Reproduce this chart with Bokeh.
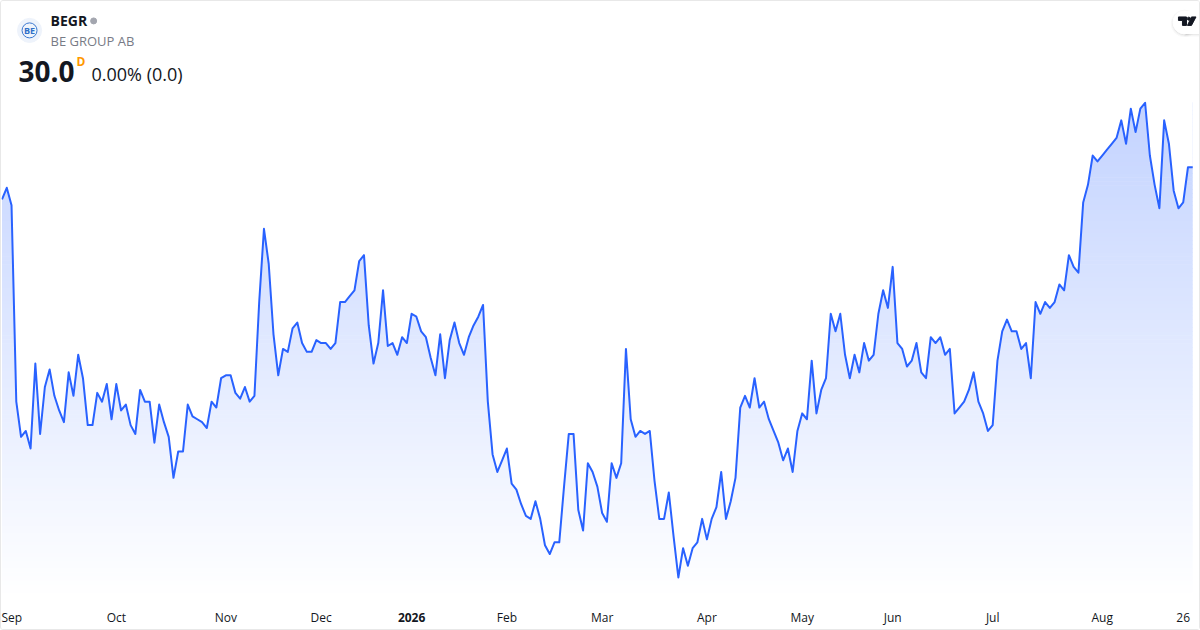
from bokeh.embed import file_html
from bokeh.resources import INLINE
from bokeh.plotting import figure
from bokeh.models import Label, FixedTicker, Range1d, LinearAxis
import numpy as np

ticker_name = "BEGR"
company = "BE GROUP AB"
last_price = "30.0"
change_text = "0.00% (0.0)"

closes = [
    29.45,29.65,29.35,26.0,25.4,25.5,25.2,26.65,25.45,26.25,26.55,26.1,25.85,25.65,26.5,26.1,26.8,26.4,25.6,25.6,
    26.15,26.0,26.3,25.7,26.3,25.85,25.95,25.6,25.45,26.2,26.0,26.0,25.3,25.95,25.65,25.4,24.7,25.15,25.15,25.95,
    25.75,25.7,25.65,25.55,26.0,25.9,26.4,26.45,26.45,26.15,26.05,26.25,26.0,26.1,27.7,28.95,28.35,27.15,26.45,26.9,
    26.85,27.25,27.35,27.0,26.85,26.85,27.05,27.0,27.0,26.9,27.0,27.7,27.7,27.8,27.9,28.4,28.5,27.3,26.65,27.0,
    27.9,26.95,27.0,26.8,27.1,27.0,27.5,27.45,27.2,27.1,26.75,26.45,27.15,26.4,27.05,27.35,27.0,26.8,27.1,27.3,
    27.45,27.65,26.0,25.1,24.8,25.0,25.2,24.6,24.5,24.25,24.05,24.0,24.3,24.0,23.55,23.4,23.6,23.6,24.55,25.45,
    25.45,24.15,23.8,24.95,24.8,24.55,24.1,23.95,24.95,24.7,24.95,26.9,25.7,25.4,25.5,25.45,25.5,24.65,24.0,24.0,
    24.45,23.7,23.0,23.5,23.2,23.5,23.6,24.0,23.65,24.0,24.2,24.8,24.0,24.3,24.7,25.9,26.1,25.9,26.4,25.9,
    26.0,25.7,25.5,25.3,25.0,25.2,24.8,25.5,25.8,25.7,26.7,25.8,26.2,26.4,27.5,27.2,27.5,26.8,26.4,26.8,
    26.5,27.0,26.7,26.8,27.5,27.9,27.6,28.3,27.0,26.9,26.6,26.7,27.0,26.5,26.4,27.1,27.0,27.1,26.8,26.9,
    25.8,25.9,26.0,26.2,26.5,26.0,25.8,25.5,25.6,26.7,27.2,27.4,27.2,27.2,26.9,27.0,26.4,27.7,27.5,27.7,
    27.6,27.7,28.0,27.9,28.5,28.3,28.2,29.4,29.7,30.2,30.1,30.2,30.3,30.4,30.5,30.8,30.4,31.0,30.6,31.0,
    31.1,30.2,29.7,29.3,30.8,30.4,29.6,29.3,29.4,30.0,30.0,
]
tick_index = [2, 24, 47, 67, 106, 126, 148, 168, 187, 208, 231, 248]
tick_labels = ["Sep", "Oct", "Nov", "Dec", "Feb", "Mar", "Apr", "May", "Jun", "Jul", "Aug", "26"]
year_index = 86
year_label = "2026"

W, H, AXIS_H = 1198, 628, 30
FRAME_BOTTOM = 603
X_ORIGIN = 2
X_STEP, X_OFF = 4.755, 2.5
Y_PER_UNIT, Y_REF_PX, Y_REF_V = 58.8, 343.7, 27.0

def px_x(px):
    return (px - X_OFF) / X_STEP

def px_y(py):
    return Y_REF_V + (Y_REF_PX - py) / Y_PER_UNIT

idx = np.arange(len(closes))
v = np.array(closes)

p = figure(width=W, height=H, output_backend="svg", toolbar_location=None,
           x_range=Range1d(px_x(X_ORIGIN), px_x(X_ORIGIN + W)), y_range=Range1d(px_y(FRAME_BOTTOM), px_y(1)),
           min_border=0, min_border_bottom=AXIS_H, y_axis_location=None)
p.styles = {"border": "1px solid #E8E8E8", "border-radius": "3px", "box-sizing": "content-box"}
p.outline_line_color = None
p.background_fill_color = "white"
p.border_fill_color = "white"
p.grid.visible = False

# vertical gradient under the line, masked above it
LINE = "#2962FF"
top_v, bot_v = v.max(), px_y(598)
edges = np.linspace(bot_v, top_v, 126)
a = 0.28 * (np.arange(125) + 0.5) / 125
colors = ["#%02x%02x%02x" % (round(255 - 214 * t), round(255 - 157 * t), 255) for t in a]
p.quad(left=idx[0], right=idx[-1], bottom=edges[:-1], top=edges[1:] + 0.01,
       fill_color=colors, line_color=None)
p.varea(x=idx, y1=v, y2=top_v + 0.3, fill_color="white")
p.line(idx, v, line_color=LINE, line_width=2, line_join="round")

# time axis
def style_axis(axis, standoff, font_style):
    axis.axis_line_color = None
    axis.major_tick_line_color = None
    axis.minor_tick_line_color = None
    axis.major_tick_out = 0
    axis.major_label_standoff = standoff
    axis.major_label_text_font = "Open Sans"
    axis.major_label_text_font_size = "12px"
    axis.major_label_text_font_style = font_style
    axis.major_label_text_color = "#131722"

ax = p.xaxis[0]
ax.ticker = FixedTicker(ticks=tick_index)
ax.major_label_overrides = {i: s for i, s in zip(tick_index, tick_labels)}
style_axis(ax, 7, "normal")
year_ax = LinearAxis(ticker=FixedTicker(ticks=[year_index]), major_label_overrides={year_index: year_label})
style_axis(year_ax, -16, "bold")
p.add_layout(year_ax, "below")

def label(x, y, text, size, color="#131722", style="normal", **kw):
    p.add_layout(Label(x=x - X_ORIGIN, y=FRAME_BOTTOM - y, x_units="screen", y_units="screen", text=text,
                       text_font="Open Sans", text_font_size=size, text_color=color,
                       text_font_style=style, text_baseline="middle", **kw))

label(51, 22, ticker_name, "14px", style="bold")
label(51, 42, company, "13px", color="#787B86")
label(19, 73, last_price, "28px", style="bold")
label(77, 63, "D", "12px", color="#FF9800", style="bold")
label(92, 75, change_text, "18px")

# status dot and logo
p.scatter([px_x(94)], [px_y(20.5)], size=6, color="#A3A6AF")
p.scatter([px_x(30)], [px_y(30)], size=24, color="#EEF3FB")
p.scatter([px_x(30)], [px_y(30)], size=15, fill_color=None, line_color="#3B78D0", line_width=1)
label(30, 32, "BE", "9px", color="#2F6FC8", style="bold", text_align="center")

# TradingView badge
for grow, alpha in [(5, 0.015), (3, 0.025), (1, 0.04)]:
    p.scatter([px_x(1183)], [px_y(23)], size=22 + grow, color="#000000", alpha=alpha)
    p.quad(left=[px_x(1183)], right=[px_x(1200)], bottom=[px_y(34 + grow / 2)], top=[px_y(12 - grow / 2 + 2)],
           fill_color="#000000", fill_alpha=alpha, line_color=None)
p.scatter([px_x(1183)], [px_y(22)], size=23, color="white")
p.quad(left=[px_x(1183)], right=[px_x(1200)], bottom=[px_y(33.5)], top=[px_y(10.5)], fill_color="white", line_color=None)
p.patch(px_x(np.array([1177, 1185, 1185, 1181, 1181, 1177])), px_y(np.array([16.5, 16.5, 25, 25, 20, 20])), color="#131722")
p.patch(px_x(np.array([1190, 1194.5, 1190, 1186])), px_y(np.array([16.5, 16.5, 25, 25])), color="#131722")
p.scatter([px_x(1187.3)], [px_y(18.2)], size=3, color="#131722")

open("out.html", "w").write(file_html(p, INLINE))
